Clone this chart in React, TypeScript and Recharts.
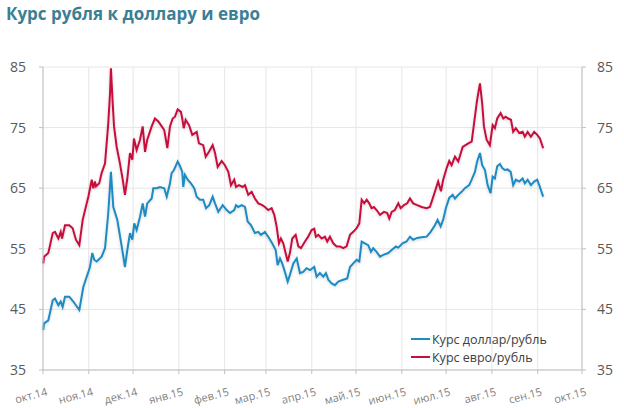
import React from "react";
import {
  LineChart, Line, XAxis, YAxis, CartesianGrid,
} from "recharts";

// days since 1 Oct 2014
const monthStarts = [0, 31, 61, 92, 123, 151, 182, 212, 243, 273, 304, 335, 365];
const monthLabels = [
  "окт.14", "ноя.14", "дек.14", "янв.15", "фев.15", "мар.15", "апр.15",
  "май.15", "июн.15", "июл.15", "авг.15", "сен.15", "окт.15",
];
const rateTicks = [35, 45, 55, 65, 75, 85];

const usdDays = [
  0.2, 0.7, 3.6, 6.6, 8.1, 10.4, 12.0, 13.3, 14.9, 17.8, 20.5, 24.6, 27.3, 31.8, 33.4, 34.7,
  36.4, 39.7, 42.0, 44.2, 46.0, 47.6, 50.3, 53.3, 55.5, 57.1, 58.9, 60.5, 61.8, 63.4, 65.7,
  67.5, 69.1, 70.6, 73.6, 74.7, 77.0, 79.2, 82.1, 83.8, 86.0, 87.1, 88.7, 91.2, 92.5, 94.3,
  95.0, 96.1, 98.0, 100.2, 102.4, 104.1, 106.3, 108.5, 110.4, 112.6, 114.9, 116.5, 118.7,
  121.7, 124.4, 126.6, 129.5, 130.7, 132.2, 134.5, 136.8, 138.6, 140.8, 143.5, 145.8, 147.6,
  150.3, 152.5, 155.2, 157.6, 158.9, 160.5, 162.0, 163.8, 165.7, 167.2, 169.5, 171.8, 174.0,
  176.2, 178.5, 180.8, 183.7, 185.3, 187.5, 189.8, 191.6, 193.2, 195.5, 197.7, 199.9, 203.3,
  206.0, 207.9, 210.1, 212.4, 214.2, 215.8, 218.0, 220.2, 222.1, 223.6, 225.9, 228.2, 230.4,
  233.8, 236.1, 239.0, 240.6, 243.5, 246.2, 248.5, 250.7, 253.4, 256.4, 259.8, 262.5, 265.4,
  267.2, 269.3, 271.0, 272.8, 275.1, 277.4, 279.0, 281.2, 283.5, 285.7, 288.6, 290.3, 292.5,
  294.0, 295.9, 297.4, 299.3, 301.1, 303.1, 304.5, 306.0, 307.6, 309.4, 311.2, 312.8, 314.6,
  316.7, 318.4, 320.2, 322.5, 324.8, 326.3, 328.2, 330.4, 332.6, 334.7, 336.5, 338.7,
];
const usdRates = [
  41.6, 42.7, 43.2, 46.5, 46.8, 45.7, 46.3, 45.4, 47.1, 47.1, 46.3, 44.9, 48.7, 52.0, 54.3, 53.2,
  52.9, 53.7, 55.1, 60.9, 67.7, 61.9, 59.8, 55.4, 52.0, 54.8, 57.6, 56.5, 59.2, 58.1, 60.3,
  62.5, 60.3, 62.5, 63.3, 65.0, 65.0, 65.2, 65.0, 63.6, 65.8, 67.5, 68.0, 69.4, 68.8, 67.7,
  65.2, 67.2, 66.4, 65.8, 65.0, 63.6, 63.1, 63.1, 61.7, 62.2, 63.6, 62.5, 61.1,
  62.2, 61.4, 60.9, 61.4, 62.2, 61.9, 62.2, 61.9, 59.5, 58.9, 57.6, 57.8, 57.3,
  57.8, 57.0, 55.9, 54.8, 52.3, 53.4, 52.6, 51.2, 49.6, 50.7, 52.6, 53.4, 51.0,
  51.2, 51.8, 51.5, 52.0, 50.4, 51.0, 50.4, 51.0, 49.9, 49.3, 49.0, 49.6, 49.9,
  50.1, 52.0, 52.6, 53.2, 52.9, 56.2, 55.9, 55.6, 54.5, 55.1, 54.5, 53.7, 54.0,
  54.3, 54.8, 55.4, 55.2, 55.9, 56.2, 57.0, 56.5, 56.8, 56.9, 57.0, 57.8, 58.9,
  59.8, 58.7, 59.8, 61.7, 63.4, 63.9, 63.3, 63.9, 64.4, 65.0, 65.5, 66.4, 67.7,
  69.4, 70.8, 68.8, 68.0, 65.5, 64.2, 66.9, 66.6, 68.6, 69.0, 68.3, 68.0, 68.1,
  67.7, 65.5, 66.4, 66.1, 66.6, 65.8, 66.4, 65.5, 66.1, 66.4, 65.2, 63.6,
];

const eurDays = [
  0.2, 0.7, 3.6, 6.6, 8.1, 10.4, 12.0, 12.9, 14.9, 17.8, 20.1, 22.3, 24.6, 26.9, 30.7, 33.0,
  34.1, 35.2, 35.9, 38.1, 39.7, 42.0, 44.2, 45.4, 46.0, 47.2, 48.1, 49.9, 52.1, 54.0, 55.5,
  57.1, 58.9, 60.5, 61.6, 63.4, 65.7, 67.5, 69.1, 70.6, 73.6, 75.8, 78.1, 80.4, 82.1, 84.2,
  86.0, 87.8, 89.4, 91.2, 93.4, 94.3, 95.3, 96.6, 98.9, 101.1, 104.1, 105.6, 108.5, 110.2,
  112.4, 114.9, 116.5, 118.3, 121.0, 123.2, 125.5, 127.3, 129.5, 130.7, 132.7, 135.2, 136.8,
  139.0, 141.3, 143.5, 145.8, 148.5, 150.3, 152.5, 154.8, 156.6, 158.2, 159.8, 161.1, 162.7,
  164.3, 165.7, 167.2, 168.8, 171.1, 172.9, 174.7, 177.4, 179.6, 181.9, 183.7, 184.8, 186.4,
  188.7, 190.9, 192.5, 194.3, 196.6, 198.8, 201.1, 203.3, 205.6, 207.9, 210.1, 212.4, 214.2,
  215.8, 217.5, 219.2, 220.9, 222.5, 224.1, 225.9, 228.2, 230.9, 233.1, 234.5, 236.1, 238.3,
  240.6, 242.2, 244.4, 246.6, 248.5, 250.7, 253.4, 256.4, 259.8, 262.0, 264.7, 267.6, 269.5,
  271.0, 273.3, 275.1, 276.7, 279.0, 281.2, 284.2, 288.0, 290.3, 292.5, 294.0, 295.9, 297.4,
  298.6, 300.4, 302.6, 304.5, 306.0, 307.6, 309.9, 311.7, 313.3, 315.0, 316.9, 318.4, 320.2,
  322.5, 324.8, 326.3, 328.2, 330.4, 332.6, 334.7, 336.5, 338.7,
];
const eurRates = [
  52.6, 53.7, 54.3, 57.6, 57.8, 56.7, 57.8, 56.7, 58.9, 58.9, 58.4, 56.5, 55.6, 59.8, 63.6, 66.4,
  65.0, 66.1, 65.3, 65.8, 67.5, 69.1, 75.7, 80.7, 84.8, 79.0, 75.2, 71.8, 69.1, 66.4, 63.9,
  66.6, 70.8, 69.7, 73.2, 71.3, 73.0, 75.2, 71.0, 73.0, 75.2, 76.5, 76.0, 75.2, 74.6, 71.6,
  75.2, 76.5, 76.8, 78.0, 77.6, 76.5, 74.9, 76.3, 75.4, 73.8, 74.3, 72.4, 72.1, 70.2,
  71.0, 72.1, 70.8, 68.5, 69.5, 68.8, 67.7, 65.5, 66.4, 65.2, 65.5, 65.2, 65.5,
  63.9, 64.4, 63.3, 62.5, 62.2, 61.9, 61.4, 61.7, 60.6, 58.7, 55.9, 56.7, 55.9,
  54.3, 52.9, 54.3, 56.7, 57.3, 55.4, 55.1, 56.2, 57.0, 58.1, 58.3, 57.0, 57.3,
  56.7, 57.0, 56.2, 57.0, 55.9, 55.4, 55.4, 55.1, 55.4, 57.3, 57.8, 58.4, 59.2,
  63.1, 62.5, 63.1, 62.5, 61.7, 61.9, 61.4, 60.6, 61.1, 60.9, 60.0, 61.1, 61.4,
  62.5, 61.7, 62.2, 62.5, 63.3, 62.5, 62.2, 61.9, 61.7, 61.9, 63.9, 66.1, 64.5,
  66.4, 68.3, 69.5, 68.8, 70.2, 69.4, 71.8, 72.4, 72.7, 76.8, 79.6, 82.3, 79.0,
  75.2, 73.0, 72.1, 75.4, 74.9, 76.5, 77.4, 76.5, 76.8, 76.5, 76.3, 74.3, 74.9,
  74.1, 74.3, 73.5, 74.3, 73.5, 74.3, 73.8, 73.2, 71.6,
];

const usdData = usdDays.map((day, i) => ({ day, usd: usdRates[i] }));
const eurData = eurDays.map((day, i) => ({ day, eur: eurRates[i] }));

const COLORS = { usd: "#1d8bc4", eur: "#c8103d" };
const FONT = "'Open Sans', 'DejaVu Sans', sans-serif";

function MonthTick({ x, y, payload }: any) {
  const label = monthLabels[monthStarts.indexOf(payload.value)] ?? "";
  return (
    <text
      x={x + 5}
      y={y + 19}
      textAnchor="end"
      fontSize={11}
      fill="#7f7f7f"
      fontFamily={FONT}
      transform={`rotate(-15, ${x + 5}, ${y + 19})`}
    >
      {label}
    </text>
  );
}

function ChartLegend() {
  const items = [
    { label: "Курс доллар/рубль", color: COLORS.usd },
    { label: "Курс евро/рубль", color: COLORS.eur },
  ];
  return (
    <div style={{ position: "absolute", left: 411, top: 330, fontFamily: FONT, fontSize: 12.5, color: "#404040" }}>
      {items.map((it) => (
        <div key={it.label} style={{ display: "flex", alignItems: "center", height: 18 }}>
          <span style={{ width: 19, height: 2, background: it.color, display: "inline-block", marginRight: 2 }} />
          <span>{it.label}</span>
        </div>
      ))}
    </div>
  );
}

export default function App() {
  return (
    <div style={{ position: "absolute", left: 0, top: 0, width: 624, height: 408, background: "#fff" }}>
      <div
        style={{
          position: "absolute", left: 6, top: 2, fontFamily: FONT, fontWeight: 700,
          fontSize: 17, color: "#3a7f96", whiteSpace: "nowrap",
        }}
      >
        Курс рубля к доллару и евро
      </div>
      <LineChart width={624} height={408} margin={{ top: 67, right: 0, bottom: 0, left: 0 }}>
        <defs>
          <filter id="glow" x="-5%" y="-5%" width="110%" height="110%">
            <feDropShadow dx="0" dy="1" stdDeviation="1.4" floodColor="#000" floodOpacity="0.18" />
          </filter>
        </defs>
        <CartesianGrid stroke="#e6e6e6" strokeWidth={1} />
        <XAxis
          dataKey="day"
          type="number"
          domain={[0, 365]}
          ticks={monthStarts}
          interval={0}
          height={38}
          allowDuplicatedCategory={false}
          stroke="#bfbfbf"
          tickSize={4}
          tick={<MonthTick />}
        />
        <YAxis
          domain={[35, 85]}
          ticks={rateTicks}
          width={43}
          stroke="#bfbfbf"
          tickSize={4}
          tickMargin={13}
          tick={{ fill: "#595959", fontSize: 14, fontFamily: FONT }}
        />
        <YAxis
          yAxisId="right"
          orientation="right"
          domain={[35, 85]}
          ticks={rateTicks}
          width={42}
          stroke="#bfbfbf"
          tickSize={4}
          tickMargin={11}
          tick={{ fill: "#595959", fontSize: 14, fontFamily: FONT }}
        />
        <Line
          data={usdData}
          dataKey="usd"
          name="Курс доллар/рубль"
          stroke={COLORS.usd}
          strokeWidth={2}
          dot={false}
          type="linear"
          filter="url(#glow)"
          isAnimationActive={false}
        />
        <Line
          yAxisId="right"
          data={eurData}
          dataKey="eur"
          name="Курс евро/рубль"
          stroke={COLORS.eur}
          strokeWidth={2}
          dot={false}
          type="linear"
          filter="url(#glow)"
          isAnimationActive={false}
        />
      </LineChart>
      <ChartLegend />
    </div>
  );
}
